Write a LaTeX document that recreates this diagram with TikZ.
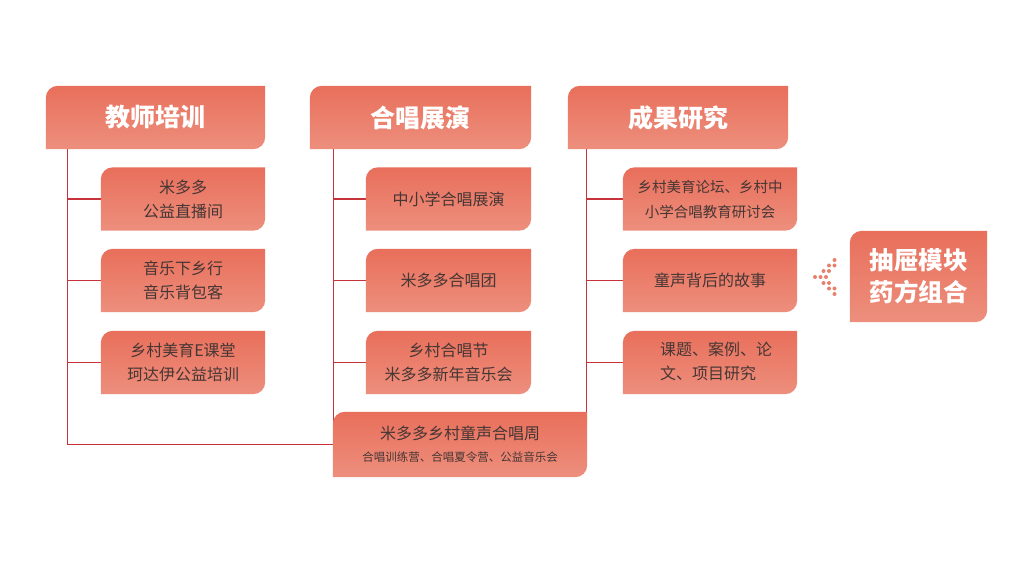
\documentclass[tikz,border=0pt]{standalone}
\usepackage{fontspec}
\setmainfont{Noto Sans CJK SC}
\usetikzlibrary{calc}
\definecolor{boxtop}{HTML}{E86F5B}
\definecolor{boxbot}{HTML}{ED8F7D}
\definecolor{linec}{HTML}{C8323A}
\definecolor{txt}{HTML}{463634}
\definecolor{dotc}{HTML}{E9806D}
\pgfdeclarelayer{lines}
\pgfdeclarelayer{shapes}
\pgfsetlayers{lines,shapes,main}
\newcommand{\tagfill}[1]{\shade[top color=boxtop,bottom color=boxbot] (#1.south west) -- ([yshift=-12pt]#1.north west) arc[start angle=180,end angle=90,radius=12pt] -- (#1.north east) -- ([yshift=12pt]#1.south east) arc[start angle=0,end angle=-90,radius=12pt] -- cycle;}
\begin{document}
\begin{tikzpicture}[x=1pt,y=1pt,
  boxn/.style={inner sep=0pt, align=center, text=txt, font=\fontsize{16}{24}\selectfont},
  hdr/.style={inner sep=0pt, align=center, text=white, font=\fontsize{25}{30}\selectfont\bfseries, minimum height=63pt},
  sub1/.style={boxn, minimum width=164pt, minimum height=63pt},
  sub2/.style={boxn, minimum width=165pt, minimum height=63pt},
  sub3/.style={boxn, minimum width=174pt, minimum height=63pt},
  conn/.style={draw=linec, line width=1.2pt}]
\useasboundingbox (0,0) rectangle (1024,576);
% headers
\node[hdr, minimum width=219pt] (h1) at (155.5,458.5) {教师培训};
\node[hdr, minimum width=221pt] (h2) at (420.5,458.5) {合唱展演};
\node[hdr, minimum width=220pt] (h3) at (678,458.5) {成果研究};
% column 1
\node[sub1] (a1) at (183,377) {米多多\\公益直播间};
\node[sub1] (a2) at (183,295.5) {音乐下乡行\\音乐背包客};
\node[sub1] (a3) at (183,213.5) {乡村美育E课堂\\珂达伊公益培训};
% column 2
\node[sub2] (b1) at (448.5,377) {中小学合唱展演};
\node[sub2] (b2) at (448.5,295.5) {米多多合唱团};
\node[sub2] (b3) at (448.5,213.5) {乡村合唱节\\米多多新年音乐会};
% column 3
\node[sub3, font=\fontsize{14.5}{25}\selectfont] (c1) at (710,377) {乡村美育论坛、乡村中\\小学合唱教育研讨会};
\node[sub3] (c2) at (710,295.5) {童声背后的故事};
\node[sub3] (c3) at (710,213.5) {\hspace*{12pt}\begin{tabular}{@{}l@{}}课题、案例、论\\文、项目研究\end{tabular}};
% bottom box
\node[boxn, minimum width=254pt, minimum height=65pt] (bot) at (460,131.5)
  {米多多乡村童声合唱周\\[-2pt]{\fontsize{11.5}{13}\selectfont 合唱训练营、合唱夏令营、公益音乐会}};
% right box
\node[hdr, text=white, font=\fontsize{24.5}{32}\selectfont\bfseries, minimum width=137pt, minimum height=91pt] (r) at (918.5,299.5) {抽屉模块\\药方组合};
% shapes
\begin{pgfonlayer}{shapes}
\foreach \n in {h1,h2,h3,a1,a2,a3,b1,b2,b3,c1,c2,c3,bot,r} {\tagfill{\n}}
\foreach \x/\y in {834.5/316, 829/310.5, 834.5/310.5, 823.5/305, 829/305, 815/299, 820.5/299, 826/299, 823.5/293, 829/293, 829/287.5, 834.5/287.5, 834.5/282}
  {\fill[dotc] (\x,\y) circle (2pt);}
\end{pgfonlayer}
% connectors
\begin{pgfonlayer}{lines}
\fill[white] (0,0) rectangle (1024,576);
\coordinate (l1) at ([xshift=22pt]h1.south west);
\coordinate (l2) at ([xshift=24pt]h2.south west);
\coordinate (l3) at ([xshift=18.5pt]h3.south west);
\draw[conn] (l1) |- (bot.west);
\draw[conn] (l2) -- (l2 |- bot.center);
\draw[conn] (l3) -- ([yshift=4pt]l3 |- bot.center);
\foreach \n in {a1,a2,a3} {\draw[conn] (\n.west) -- (\n.west -| l1);}
\foreach \n in {b1,b2,b3} {\draw[conn] (\n.west) -- (\n.west -| l2);}
\foreach \n in {c1,c2,c3} {\draw[conn] (\n.west) -- (\n.west -| l3);}
\end{pgfonlayer}
\end{tikzpicture}
\end{document}
